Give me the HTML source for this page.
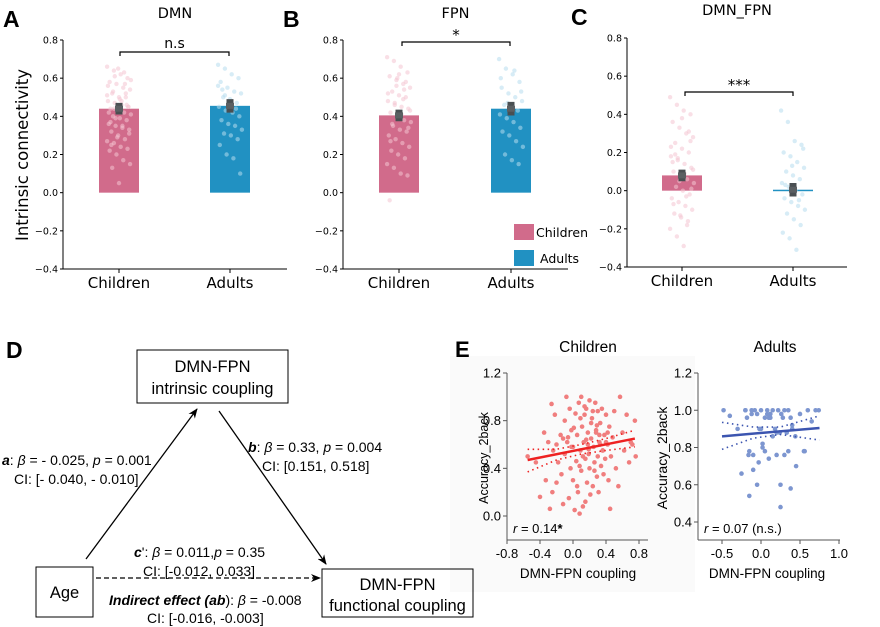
<!DOCTYPE html>
<html><head><meta charset="utf-8"><style>
body{margin:0;background:#fff;width:880px;height:627px;overflow:hidden}
svg{display:block}
.dv{font-family:"DejaVu Sans","Liberation Sans",sans-serif}
.ar{font-family:"Liberation Sans",Arial,sans-serif}
</style></head><body>
<svg id="fig" width="880" height="627" viewBox="0 0 880 627" xmlns="http://www.w3.org/2000/svg">
<rect x="450" y="356" width="245" height="236" fill="#fafafa"/>
<g id="bars"></g>
<g id="panelD" class="ar" font-size="14" fill="#000">
<text x="6" y="358" font-size="23" font-weight="bold">D</text>
<rect x="137" y="350" width="151" height="53" fill="none" stroke="#000"/>
<text x="212.5" y="372" text-anchor="middle" font-size="16.5">DMN-FPN</text>
<text x="212.5" y="394" text-anchor="middle" font-size="16.5">intrinsic coupling</text>
<rect x="36" y="567" width="57" height="50" fill="none" stroke="#000"/>
<text x="64.5" y="598" text-anchor="middle" font-size="16.5">Age</text>
<rect x="322" y="569" width="151" height="48" fill="none" stroke="#000"/>
<text x="397.5" y="590" text-anchor="middle" font-size="16.5">DMN-FPN</text>
<text x="397.5" y="611" text-anchor="middle" font-size="16.5">functional coupling</text>
<defs><marker id="ah" markerWidth="10" markerHeight="8" refX="9" refY="4" orient="auto" markerUnits="userSpaceOnUse"><path d="M0,0 L10,4 L0,8 L3,4z" fill="#000"/></marker></defs>
<line x1="86" y1="559" x2="197" y2="409" stroke="#000" stroke-width="1.3" marker-end="url(#ah)"/>
<line x1="219" y1="411" x2="326" y2="564" stroke="#000" stroke-width="1.3" marker-end="url(#ah)"/>
<line x1="96" y1="578" x2="320" y2="578" stroke="#000" stroke-width="1.3" stroke-dasharray="5,3" marker-end="url(#ah)"/>
<text x="2" y="465"><tspan font-weight="bold" font-style="italic">a</tspan>: <tspan font-style="italic">β</tspan> = - 0.025, <tspan font-style="italic">p</tspan> = 0.001</text>
<text x="14" y="484">CI: [- 0.040, - 0.010]</text>
<text x="248" y="452"><tspan font-weight="bold" font-style="italic">b</tspan>: <tspan font-style="italic">β</tspan> = 0.33, <tspan font-style="italic">p</tspan> = 0.004</text>
<text x="262" y="471">CI: [0.151, 0.518]</text>
<text x="134" y="557"><tspan font-weight="bold" font-style="italic">c</tspan>': <tspan font-style="italic">β</tspan> = 0.011,<tspan font-style="italic">p</tspan> = 0.35</text>
<text x="143" y="576">CI: [-0.012, 0.033]</text>
<text x="109" y="605"><tspan font-weight="bold" font-style="italic">Indirect effect (ab</tspan>): <tspan font-style="italic">β</tspan> = -0.008</text>
<text x="147" y="623">CI: [-0.016, -0.003]</text>
</g>
<g id="scat"></g>
</svg>
<script>
const NS="http://www.w3.org/2000/svg";
function mk(p,t,a,txt){const e=document.createElementNS(NS,t);for(const k in a)e.setAttribute(k,a[k]);if(txt!==undefined)e.textContent=txt;p.appendChild(e);return e;}
// ---- Bar chart data ----
const barCategories=["Children","Adults"];
const barTitles=["DMN","FPN","DMN_FPN"];
const barLetters=["A","B","C"];
const dmnMeans=[0.44,0.455];
const fpnMeans=[0.405,0.44];
const dmnFpnMeans=[0.08,0.005];
const dmnSem=[0.02,0.025];
const fpnSem=[0.02,0.025];
const dmnFpnSem=[0.02,0.025];
const sigLabels=["n.s","*","***"];
const yTicks=[0.8,0.6,0.4,0.2,0.0,-0.2,-0.4];
const yTickLabels=["0.8","0.6","0.4","0.2","0.0","\u22120.2","\u22120.4"];
const dmnChildDots=[0.66,0.64,0.62,0.6,0.58,0.57,0.55,0.54,0.52,0.5,0.5,0.48,0.47,0.46,0.45,0.44,0.43,0.42,0.41,0.4,0.39,0.38,0.36,0.35,0.34,0.33,0.32,0.3,0.28,0.27,0.26,0.24,0.23,0.22,0.2,0.17,0.15,0.13,0.05,0.52,0.56,0.61,0.48,0.45,0.37,0.29,0.63,0.59,0.53,0.49,0.46,0.42,0.39,0.35,0.31,0.25,0.65,0.57,0.51,0.44];
const dmnAdultDots=[0.67,0.65,0.62,0.6,0.58,0.55,0.53,0.52,0.5,0.49,0.47,0.45,0.43,0.42,0.4,0.38,0.36,0.35,0.33,0.31,0.3,0.28,0.25,0.2,0.18,0.1,0.54,0.47,0.44,0.56,0.51,0.46];
const fpnChildDots=[0.71,0.69,0.66,0.63,0.61,0.59,0.57,0.55,0.53,0.51,0.5,0.48,0.46,0.45,0.44,0.42,0.4,0.38,0.37,0.35,0.33,0.32,0.3,0.28,0.26,0.24,0.22,0.2,0.18,0.15,0.13,0.1,0.09,-0.04,0.56,0.49,0.43,0.36,0.62,0.58,0.52,0.47,0.41,0.34,0.27,0.6,0.54];
const fpnAdultDots=[0.7,0.65,0.62,0.58,0.55,0.52,0.5,0.48,0.46,0.45,0.43,0.41,0.39,0.37,0.34,0.32,0.3,0.27,0.24,0.2,0.17,0.15,0.6,0.47,0.64,0.53];
const dmnFpnChildDots=[0.49,0.45,0.42,0.4,0.36,0.33,0.3,0.28,0.25,0.22,0.2,0.18,0.16,0.14,0.12,0.1,0.08,0.06,0.04,0.02,0.0,-0.02,-0.04,-0.06,-0.08,-0.1,-0.12,-0.14,-0.16,-0.2,-0.24,-0.29,0.26,0.15,0.05,-0.03,0.11,0.19,0.38,0.31,0.23,0.17,0.09,0.01,-0.07,-0.13,-0.18];
const dmnFpnAdultDots=[0.42,0.36,0.26,0.24,0.2,0.18,0.15,0.12,0.1,0.08,0.06,0.04,0.02,0.0,-0.02,-0.04,-0.06,-0.08,-0.1,-0.12,-0.15,-0.18,-0.22,-0.25,-0.31,0.22,0.03,0.13,-0.05];
const panels=[
 {ax:63,y0:40,y1:269,xEnd:287,c:[119,230],means:dmnMeans,sem:dmnSem,dots:[dmnChildDots,dmnAdultDots],sigY:52,sigX:[120,229]},
 {ax:343,y0:40,y1:269,xEnd:568,c:[399,511],means:fpnMeans,sem:fpnSem,dots:[fpnChildDots,fpnAdultDots],sigY:42,sigX:[402,510]},
 {ax:627,y0:38,y1:267,xEnd:847,c:[682,793],means:dmnFpnMeans,sem:dmnFpnSem,dots:[dmnFpnChildDots,dmnFpnAdultDots],sigY:92,sigX:[685,793]}];
const colors=["#d16b8b","#2191c2"],dotCol=["#f4c4d2","#b6dcef"];
const bars=document.getElementById('bars');
panels.forEach((P,pi)=>{
 const g=mk(bars,'g',{class:'dv'});
 
 
 const ys=v=>P.y0+(0.8-v)/1.2*(P.y1-P.y0);
 const t=mk(g,'text',{x:(P.ax+P.xEnd)/2,y:pi==2?15:18,'text-anchor':'middle','font-size':'14.5'},barTitles[pi]);
 
 const L=mk(g,'text',{x:P.ax-60+(pi==2?4:0),y:pi==2?25:27,'font-size':'23','font-weight':'bold',class:'ar'},barLetters[pi]);
 
 P.c.forEach((cx,ci)=>{
  const m=P.means[ci],top=ys(Math.max(m,0)),h=Math.abs(ys(m)-ys(0));
  const r=mk(g,'rect',{x:cx-20,y:top,width:40,height:Math.max(h,1.5),fill:colors[ci]});
  
  P.dots[ci].forEach((v,i)=>{
   const d=mk(g,'circle',{cx:cx+((i*37)%29-14)*0.85,cy:ys(v),r:2.2,fill:dotCol[ci],opacity:0.55});
   
  });
  const e1=ys(m+P.sem[ci]),e2=ys(m-P.sem[ci]);
  const eb=mk(g,'path',{d:`M${cx-3.5},${e1}H${cx+3.5}M${cx},${e1}V${e2}M${cx-3.5},${e2}H${cx+3.5}`,stroke:'#4a4f52','stroke-width':'4',fill:'none'});
  
  mk(g,'rect',{x:cx-4,y:ys(m)-3,width:8,height:6,fill:'#5b5f62'});
  mk(g,'line',{x1:cx,y1:P.y1,x2:cx,y2:P.y1+4,stroke:'#000'});
  const xl=mk(g,'text',{x:cx,y:P.y1+19,'text-anchor':'middle','font-size':'15'},barCategories[ci]);
  
 });
 const axy=mk(g,'line',{x1:P.ax,y1:P.y0,x2:P.ax,y2:P.y1,stroke:'#000','stroke-width':'1'});
 
 const axx=mk(g,'line',{x1:P.ax,y1:P.y1,x2:P.xEnd,y2:P.y1,stroke:'#000','stroke-width':'1'});
 
 yTicks.forEach((v,i)=>{
  mk(g,'line',{x1:P.ax-3,y1:ys(v),x2:P.ax,y2:ys(v),stroke:'#000'});
  const tl=mk(g,'text',{x:P.ax-5,y:ys(v)+3.5,'text-anchor':'end','font-size':'9.5'},yTickLabels[i]);
  
 });
 const s=mk(g,'path',{d:`M${P.sigX[0]},${P.sigY+4}V${P.sigY}H${P.sigX[1]}V${P.sigY+4}`,stroke:'#000',fill:'none','stroke-width':'1.2'});
 
 const st=mk(g,'text',{x:(P.sigX[0]+P.sigX[1])/2,y:pi==0?P.sigY-4:P.sigY-2,'text-anchor':'middle','font-size':pi==0?'14':'15'},sigLabels[pi]);
 
});
{const g=mk(bars,'g',{class:'dv'});
 
 mk(g,'text',{x:0,y:0,transform:'translate(28,155) rotate(-90)','text-anchor':'middle','font-size':'16.5'},'Intrinsic connectivity');
 const lg=mk(bars,'g',{class:'dv','font-size':'12.5'});
 
 mk(lg,'rect',{x:514,y:224,width:20,height:16,fill:colors[0]});
 mk(lg,'text',{x:536,y:237},'Children');
 mk(lg,'rect',{x:514,y:250,width:20,height:16,fill:colors[1]});
 mk(lg,'text',{x:540,y:263},'Adults');}
// ---- Scatter data ----
const childX=[-0.55,-0.45,-0.4,-0.35,-0.33,-0.3,-0.28,-0.26,-0.25,-0.24,-0.22,-0.2,-0.2,-0.18,-0.15,-0.14,-0.12,-0.1,-0.1,-0.08,-0.07,-0.05,-0.04,-0.03,-0.02,0.0,0.0,0.02,0.03,0.04,0.05,0.06,0.07,0.08,0.09,0.1,0.1,0.11,0.12,0.13,0.14,0.15,0.15,0.16,0.17,0.18,0.19,0.2,0.2,0.21,0.22,0.23,0.24,0.25,0.26,0.27,0.28,0.29,0.3,0.3,0.31,0.32,0.33,0.34,0.35,0.36,0.37,0.38,0.39,0.4,0.42,0.43,0.44,0.45,0.46,0.48,0.5,0.52,0.55,0.57,0.6,0.62,0.65,0.68,0.7,0.72,0.75,0.76,-0.12,0.05,0.18,0.28,0.36,0.08,0.22,-0.02,0.12,0.26,0.4,0.32,-0.06,0.01,0.09,0.16,0.24,0.33,0.42,0.14,0.19,0.29];
const childY=[0.5,0.45,0.16,0.7,0.3,0.62,0.06,0.94,0.2,0.55,0.85,0.6,0.28,0.45,0.68,0.35,0.1,0.8,0.52,1.0,0.62,0.15,0.9,0.4,0.72,0.3,0.58,0.05,0.86,0.46,0.68,0.2,0.95,0.02,0.55,1.0,0.38,0.75,0.08,0.62,0.85,0.48,0.12,0.9,0.28,0.7,0.52,0.97,0.4,0.18,0.65,0.82,0.25,0.58,0.45,0.95,0.7,0.33,0.88,0.5,0.2,0.62,0.78,0.42,0.9,0.55,0.35,0.68,0.48,0.85,0.6,0.3,0.75,0.06,0.5,0.66,0.88,0.4,0.25,1.0,0.7,0.55,0.85,0.45,0.62,0.6,0.8,0.5,0.65,0.25,0.6,0.72,0.55,0.42,0.78,0.58,0.5,0.38,0.62,0.68,0.66,0.74,0.82,0.64,0.88,0.6,0.7,0.92,0.56,0.76];
const childFitX=[-0.55,0.75];
const childFitY=[0.47,0.65];
const childCIx=[-0.55,-0.2,0.1,0.4,0.75];
const childCIup=[0.56,0.56,0.6,0.65,0.72];
const childCIlo=[0.37,0.47,0.52,0.55,0.58];
const adultX=[-0.48,-0.4,-0.3,-0.25,-0.2,-0.18,-0.15,-0.12,-0.1,-0.08,-0.05,-0.03,0.0,0.02,0.05,0.08,0.1,0.12,0.15,0.18,0.2,0.22,0.25,0.28,0.3,0.33,0.35,0.38,0.4,0.45,0.5,0.55,0.6,0.65,0.7,0.74,-0.15,-0.1,0.0,0.05,0.1,0.2,0.25,0.3,0.35,-0.2,-0.05,0.08,0.15,0.4,-0.16,0.24,0.38,0.26,0.44,0.56,-0.12,-0.02,0.02,0.12];
const adultY=[1.0,0.97,0.9,0.66,1.0,0.96,0.54,1.0,0.76,1.0,0.98,0.72,1.0,0.8,0.96,1.0,0.74,0.98,1.0,0.9,0.76,1.0,0.6,0.96,1.0,0.88,0.78,0.58,0.92,0.7,0.98,0.78,1.0,0.94,1.0,1.0,0.78,0.68,0.9,0.78,0.96,0.88,0.48,0.76,1.0,1.0,0.6,0.98,0.86,0.9,0.76,0.88,0.96,0.98,0.86,0.78,0.98,0.9,0.82,0.96];
const adultFitX=[-0.5,0.75];
const adultFitY=[0.86,0.905];
const adultCIx=[-0.5,-0.1,0.25,0.75];
const adultCIup=[0.935,0.91,0.91,0.97];
const adultCIlo=[0.79,0.85,0.87,0.84];
const childXTicks=[-0.8,-0.4,0.0,0.4,0.8];
const childXTickLabels=["-0.8","-0.4","0.0","0.4","0.8"];
const childYTicks=[0.0,0.4,0.8,1.2];
const childYTickLabels=["0.0","0.4","0.8","1.2"];
const adultXTicks=[-0.5,0.0,0.5,1.0];
const adultXTickLabels=["-0.5","0.0","0.5","1.0"];
const adultYTicks=[0.4,0.6,0.8,1.0,1.2];
const adultYTickLabels=["0.4","0.6","0.8","1.0","1.2"];
const sc=document.getElementById('scat');
const E=mk(sc,'text',{x:455,y:357,'font-size':'22','font-weight':'bold',class:'ar'},'E');

function scatter(o){
 const g=mk(sc,'g',{class:'ar'});
 
 const xs=v=>o.x0+(v-o.xa)/(o.xb-o.xa)*(o.x1-o.x0);
 const ys=v=>o.yA+(v-o.ya)/(o.yb-o.ya)*(o.yB-o.yA);
 const t=mk(g,'text',{x:o.tx,y:352,'text-anchor':'middle','font-size':'15.5'},o.title);
 
 o.X.forEach((x,i)=>{const c=mk(g,'circle',{cx:xs(x),cy:ys(o.Y[i]),r:2.3,fill:o.pc});
  });
 const f=mk(g,'line',{x1:xs(o.fx[0]),y1:ys(o.fy[0]),x2:xs(o.fx[1]),y2:ys(o.fy[1]),stroke:o.lc,'stroke-width':'2.5'});
 
 [o.cu,o.cl].forEach(arr=>{const p=mk(g,'polyline',{points:o.cx.map((x,i)=>xs(x)+','+ys(arr[i])).join(' '),fill:'none',stroke:o.lc,'stroke-width':'1.6','stroke-dasharray':'1.5,3.5'});
  });
 const ay=mk(g,'line',{x1:o.axX,y1:o.axTop,x2:o.axX,y2:o.axY,stroke:'#555'});
 
 const ax=mk(g,'line',{x1:o.axX,y1:o.axY,x2:o.axR,y2:o.axY,stroke:'#555'});
 
 o.yt.forEach((v,i)=>{mk(g,'line',{x1:o.axX-4,y1:ys(v),x2:o.axX,y2:ys(v),stroke:'#555'});
  const l=mk(g,'text',{x:o.axX-6,y:ys(v)+4.5,'text-anchor':'end','font-size':'13'},o.ytl[i]);
  });
 o.xt.forEach((v,i)=>{mk(g,'line',{x1:xs(v),y1:o.axY,x2:xs(v),y2:o.axY+4,stroke:'#555'});
  const l=mk(g,'text',{x:xs(v),y:o.axY+18,'text-anchor':'middle','font-size':'13'},o.xtl[i]);
  });
 const xl=mk(g,'text',{x:o.xlx,y:o.axY+38,'text-anchor':'middle','font-size':'13.5'},'DMN-FPN coupling');
 
 const yl=mk(g,'text',{x:0,y:0,transform:`translate(${o.ylx},${o.yly}) rotate(-90)`,'text-anchor':'middle','font-size':o.ylfs},'Accuracy_2back');
 
 const r=mk(g,'text',{x:o.axX+6,y:o.axY-7,'font-size':'13'});
 
 r.innerHTML='<tspan font-style="italic">r</tspan> = '+o.rtxt;
}
scatter({name:'scatter-children',title:'Children',tx:588,X:childX,Y:childY,pc:'#f07e7e',lc:'#ee2222',fx:childFitX,fy:childFitY,cx:childCIx,cu:childCIup,cl:childCIlo,
 x0:507,x1:639,xa:-0.8,xb:0.8,yA:516,yB:373,ya:0,yb:1.2,axX:507,axTop:373,axY:540,axR:648,yt:childYTicks,ytl:childYTickLabels,xt:childXTicks,xtl:childXTickLabels,xlx:578,ylx:488,yly:458,ylfs:'12.5',rtxt:'0.14<tspan font-weight="bold">*</tspan>'});
scatter({name:'scatter-adults',title:'Adults',tx:775,X:adultX,Y:adultY,pc:'#7d96d0',lc:'#3c55b0',fx:adultFitX,fy:adultFitY,cx:adultCIx,cu:adultCIup,cl:adultCIlo,
 x0:722,x1:839,xa:-0.5,xb:1.0,yA:522,yB:373,ya:0.4,yb:1.2,axX:698,axTop:373,axY:540,axR:840,yt:adultYTicks,ytl:adultYTickLabels,xt:adultXTicks,xtl:adultXTickLabels,xlx:767,ylx:667,yly:458,ylfs:'14',rtxt:'0.07 (n.s.)'});
</script>
</body></html>
